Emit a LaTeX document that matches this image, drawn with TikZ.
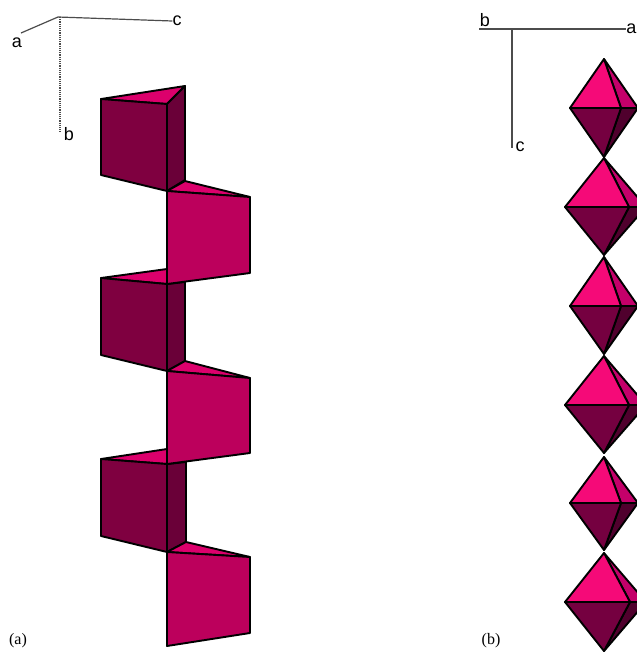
\documentclass[tikz,border=0pt]{standalone}
\usepackage{fontspec}
\setmainfont{Liberation Serif}
\newfontfamily\axisfont{Liberation Sans}
\usetikzlibrary{positioning}
\definecolor{pinkTop}{HTML}{DC006C}
\definecolor{pinkFace}{HTML}{BC005C}
\definecolor{darkFace}{HTML}{7F0040}
\definecolor{darkSide}{HTML}{6A0038}
\definecolor{octaTop}{HTML}{F50A78}
\definecolor{octaTopSide}{HTML}{C4006A}
\definecolor{octaLow}{HTML}{750040}
\definecolor{octaLowSide}{HTML}{50002D}
\begin{document}
\begin{tikzpicture}[
    x=1pt, y=-1pt,
    face/.style={draw=black, line width=1.9pt, line join=round},
    axisline/.style={draw=black!70, line width=1.2pt},
    axislabel/.style={font=\axisfont\fontsize{18}{18}\selectfont, inner sep=0pt},
    caption/.style={font=\fontsize{16}{16}\selectfont, inner sep=0pt}
]
    \useasboundingbox (0,0) rectangle (637,654);
    \clip (0,0) rectangle (637,654);

    % axes of (a)
    \coordinate (orgA) at (58,17);
    \node[axislabel] (aA) at (17,43) {a};
    \node[axislabel] (bA) at (69,134) {b};
    \node[axislabel] (cA) at (177,21) {c};
    \draw[axisline] (orgA) -- (21,33);
    \draw[axisline] (orgA) -- (cA.west);
    \draw[axisline, densely dotted] (60,17) -- (60,132);

    % axes of (b)
    \node[axislabel] (bB) at (485,20) {b};
    \node[axislabel] (aB) at (631.5,29) {a};
    \node[axislabel] (cB) at (520,147) {c};
    \coordinate (orgB) at (512,29);
    \draw[axisline] (479,29) -- (aB.west);
    \draw[axisline] (orgB) -- (512,148);

    % left chain, dark units
    \foreach \ytl/\yt/\yb/\ybl/\xs/\yst in {99/104/191/175/185/86,
        278/284/371/355/167/269, 459/464/552/536/167/449} {
        \fill[face, fill=pinkTop] (101,\ytl) -- (\xs,\yst) -- (167,\yt) -- cycle;
        \fill[face, fill=darkFace] (101,\ytl) -- (167,\yt) -- (167,\yb) -- (101,\ybl) -- cycle;
    }
    \fill[face, fill=darkSide] (167,104) -- (185,86) -- (185,180) -- (167,191) -- cycle;
    \fill[face, fill=darkSide] (167,284) -- (185,282) -- (185,361) -- (167,371) -- cycle;
    \fill[face, fill=darkSide] (167,464) -- (186,462) -- (186,542) -- (167,552) -- cycle;

    % left chain, light units
    \foreach \yt/\ytr/\ybr/\yb/\xs/\yst in {191/197/273/284/185/181,
        371/378/453/464/185/361, 552/557/633/646/186/542} {
        \fill[face, fill=pinkTop] (167,\yt) -- (\xs,\yst) -- (250,\ytr) -- cycle;
        \fill[face, fill=pinkFace] (167,\yt) -- (250,\ytr) -- (250,\ybr) -- (167,\yb) -- cycle;
    }

    % right chain
    \foreach \yt/\xl/\ym/\xf/\xr/\yb in {59/570/108/621/638/157, 158/565/207/629/646/255,
        257/570/306/621/638/354, 356/565/405/629/646/453,
        457/570/503/621/638/550, 553/565/602/630/646/651} {
        \fill[face, fill=octaTopSide] (604,\yt) -- (\xf,\ym) -- (\xr,\ym) -- cycle;
        \fill[face, fill=octaLowSide] (604,\yb) -- (\xf,\ym) -- (\xr,\ym) -- cycle;
        \fill[face, fill=octaTop] (604,\yt) -- (\xl,\ym) -- (\xf,\ym) -- cycle;
        \fill[face, fill=octaLow] (604,\yb) -- (\xl,\ym) -- (\xf,\ym) -- cycle;
    }

    \node[caption] (capA) at (18,641) {(a)};
    \node[caption] (capB) at (491,641) {(b)};
\end{tikzpicture}
\end{document}
